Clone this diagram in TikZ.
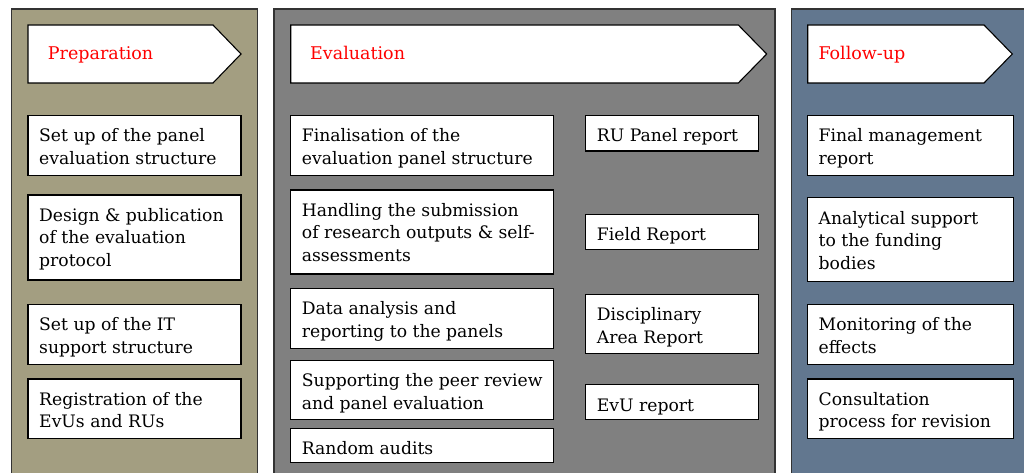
\documentclass[tikz,border=0pt]{standalone}
\usepackage{fontspec}
\setmainfont{DejaVu Serif}
\newfontfamily\boxfont{DejaVu Serif}
\begin{document}
\begin{tikzpicture}[x=1pt, y=-1pt,
  panel/.style={draw=black!80, line width=1.4pt, anchor=north west, inner sep=0pt, outer sep=0pt},
  wbox/.style={draw=black, fill=white, line width=1.1pt, anchor=north west, inner sep=0pt, outer sep=0pt},
  hdr/.style={draw=black, fill=white, line width=1.1pt},
  hdrtext/.style={anchor=base west, inner sep=0pt, text=red, font=\boxfont\fontsize{17.5}{22.5}\selectfont},
  boxtext/.style={anchor=base west, inner sep=0pt, font=\boxfont\fontsize{17.2}{22.5}\selectfont}]
\definecolor{prepfill}{HTML}{A39E81}
\definecolor{evalfill}{HTML}{808080}
\definecolor{follfill}{HTML}{62778F}

% box with top-aligned, left-aligned text
\newcommand\tbox[6]{%
  \node[wbox, minimum width=#4pt, minimum height=#5pt] (#1) at (#2,#3) {};
  \node[boxtext] (#1t) at ([xshift=11pt, yshift=-26.3pt]#1.north west)
    {\parbox[t]{#4pt}{\raggedright\boxfont\fontsize{17.2}{22.5}\selectfont #6}};}

\useasboundingbox (0,0) rectangle (1024,473);

% phase panels
\node[panel, fill=prepfill, minimum width=246pt, minimum height=480pt] (prep) at (11.7,9) {};
\node[panel, fill=evalfill, minimum width=501pt, minimum height=480pt] (eval) at (274,9) {};
\node[panel, fill=follfill, minimum width=250pt, minimum height=480pt] (foll) at (791.7,9) {};

% phase headers
\draw[hdr] (28,25) -- (213,25) -- (241,54) -- (213,83) -- (28,83) -- cycle;
\node[hdrtext] (prepH) at (47.7,59.3) {Preparation};
\draw[hdr] (290.7,25) -- (738.3,25) -- (766.7,54) -- (738.3,83) -- (290.7,83) -- cycle;
\node[hdrtext] (evalH) at (310,59.3) {Evaluation};
\draw[hdr] (807.7,25) -- (984,25) -- (1012.3,54) -- (984,83) -- (807.7,83) -- cycle;
\node[hdrtext] (follH) at (818.3,59.3) {Follow-up};

% preparation
\tbox{p1}{28}{115.7}{213}{59.6}{Set up of the panel\\evaluation structure}
\tbox{p2}{28}{195}{213}{85}{Design \& publication\\of the evaluation\\protocol}
\tbox{p3}{28}{304.3}{213}{60}{Set up of the IT\\support structure}
\tbox{p4}{28}{379}{213}{59.3}{Registration of the\\EvUs and RUs}

% evaluation: activities
\tbox{e1}{290.7}{115.7}{262.6}{59.6}{Finalisation of the\\evaluation panel structure}
\tbox{e2}{290.7}{190}{262.6}{84}{Handling the submission\\of research outputs \& self-\\assessments}
\tbox{e3}{290.7}{288.3}{262.6}{60}{Data analysis and\\reporting to the panels}
\tbox{e4}{290.7}{360.3}{262.6}{59}{Supporting the peer review\\and panel evaluation}
\tbox{e5}{290.7}{428.3}{262.6}{34.4}{Random audits}

% evaluation: reports
\tbox{r1}{585.7}{115.7}{173}{35.3}{RU Panel report}
\tbox{r2}{585.7}{214.3}{173}{35}{Field Report}
\tbox{r3}{585.7}{294.3}{173}{59.4}{Disciplinary\\Area Report}
\tbox{r4}{585.7}{384.7}{173}{34.6}{EvU report}

% follow-up
\tbox{f1}{807.5}{115.7}{205.8}{59.6}{Final management\\report}
\tbox{f2}{807.5}{197.7}{205.8}{84}{Analytical support\\to the funding\\bodies}
\tbox{f3}{807.5}{304.3}{205.8}{60}{Monitoring of the\\effects}
\tbox{f4}{807.5}{379}{205.8}{59.3}{Consultation\\process for revision}
\end{tikzpicture}
\end{document}
